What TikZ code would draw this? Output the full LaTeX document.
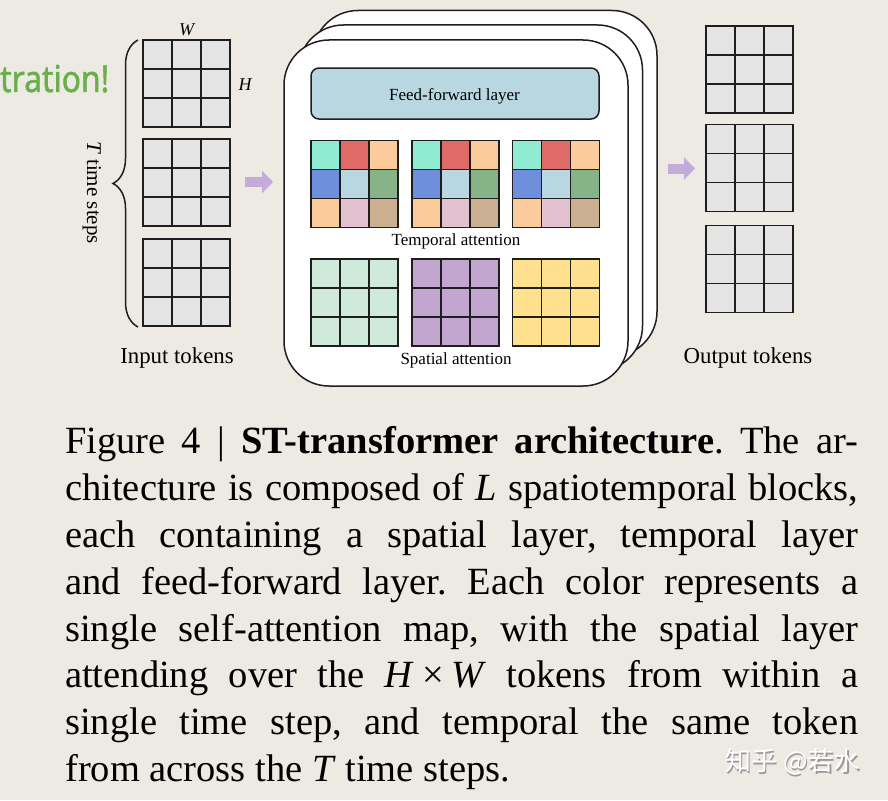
\documentclass[tikz,border=0pt]{standalone}
\usepackage{fontspec}
\setmainfont{Liberation Serif}
\newfontfamily\greenfont[FakeStretch=0.86,FakeBold=1.2]{Noto Sans}
\newfontfamily\cjkfont{Noto Sans CJK SC}
\usetikzlibrary{decorations.pathreplacing,arrows.meta}
\definecolor{bgbeige}{HTML}{EDE9E3}
\definecolor{linec}{HTML}{1E1E1E}
\definecolor{tokgray}{HTML}{E4E4E4}
\definecolor{ffblue}{HTML}{B9D7E1}
\definecolor{caqua}{HTML}{8FEBD2}
\definecolor{cred}{HTML}{DE6B67}
\definecolor{cpeach}{HTML}{FCCB9B}
\definecolor{cblue}{HTML}{6F8EDC}
\definecolor{clblue}{HTML}{B9D7E1}
\definecolor{cgreen}{HTML}{87B389}
\definecolor{cpink}{HTML}{E4C1CE}
\definecolor{ctan}{HTML}{CCAE91}
\definecolor{cmint}{HTML}{CFEADB}
\definecolor{cpurple}{HTML}{C3A6CF}
\definecolor{cyellow}{HTML}{FFE08F}
\definecolor{arrowpurple}{HTML}{C4ABD9}
\definecolor{wmgreen}{HTML}{6AAF4A}
\def\grayL{tokgray,tokgray,tokgray,tokgray,tokgray,tokgray,tokgray,tokgray,tokgray}
\def\tempL{caqua,cred,cpeach,cblue,clblue,cgreen,cpeach,cpink,ctan}
\def\mintL{cmint,cmint,cmint,cmint,cmint,cmint,cmint,cmint,cmint}
\def\purpL{cpurple,cpurple,cpurple,cpurple,cpurple,cpurple,cpurple,cpurple,cpurple}
\def\yellL{cyellow,cyellow,cyellow,cyellow,cyellow,cyellow,cyellow,cyellow,cyellow}
\newcommand{\cellgrid}[4]{%
  \foreach \cc [count=\i from 0] in #4 {
    \pgfmathtruncatemacro{\gcol}{mod(\i,3)}
    \pgfmathtruncatemacro{\grow}{div(\i,3)}
    \fill[\cc] (#2+\gcol*29, #3+\grow*29) rectangle ++(29,29);
  }
  \foreach \k in {1,2} {
    \draw[gridline] (#2+\k*29,#3) -- ++(0,87);
    \draw[gridline] (#2,#3+\k*29) -- ++(87,0);
  }
  \node[gridframe] (#1) at (#2+43.5,#3+43.5) {};
}
\frenchspacing
\begin{document}
\begin{tikzpicture}[x=1pt,y=-1pt,
  gridline/.style={linec, line width=1.6pt},
  gridframe/.style={draw=linec, line width=1.6pt, minimum size=87pt, inner sep=0pt},
  blockbox/.style={draw=linec, fill=white, line width=1.5pt, rounded corners=45pt,
    minimum width=344pt, minimum height=346pt, inner sep=0pt},
  ffbox/.style={draw=linec, fill=ffblue, line width=1.5pt, rounded corners=8pt,
    minimum width=288pt, minimum height=51pt, inner sep=0pt},
  lbl/.style={font=\fontsize{22.8pt}{26pt}\selectfont, inner sep=0pt, anchor=base},
  smlbl/.style={font=\fontsize{17pt}{20pt}\selectfont, inner sep=0pt, anchor=base},
  capline/.style={font=\frenchspacing\fontsize{38.5pt}{47pt}\selectfont, inner sep=0pt, anchor=base west},
  bigarrow/.style={arrowpurple, line width=10pt, -{Triangle[width=22pt,length=11pt]}}
]
\fill[bgbeige] (0,0) rectangle (888,800);
\useasboundingbox (0,0) rectangle (888,800);

% green clipped text
\node[anchor=base west, inner sep=0pt, text=wmgreen,
  font=\greenfont\fontsize{37pt}{40pt}\selectfont] (gtxt) at (0,92) {tration!};

% input tokens
\cellgrid{in1}{143}{40}{\grayL}
\cellgrid{in2}{143}{139}{\grayL}
\cellgrid{in3}{143}{239}{\grayL}
\node[smlbl, font=\itshape\fontsize{18pt}{20pt}\selectfont] (wlab) at (186.5,35.5) {W};
\node[smlbl, font=\itshape\fontsize{18pt}{20pt}\selectfont] (hlab) at (245,90.5) {H};
\draw[linec, line width=1.5pt, decorate, decoration={brace, amplitude=25pt}]
  (138,327) -- (138,40);
\node[lbl, font=\fontsize{21pt}{24pt}\selectfont, rotate=-90] (tlab) at (87,192.5) {\textit{T} time steps};
\node[lbl] (inlab) at (177,363.3) {Input tokens};

% block stack
\node[blockbox] (blk3) at (485,183.5) {};
\node[blockbox] (blk2) at (470.5,198) {};
\node[blockbox] (blk1) at (456,213) {};
\node[ffbox] (ff) at (455,93.5) {};
\node[smlbl] (fflab) at (454.5,100) {Feed-forward layer};
\cellgrid{t1}{311}{140.5}{\tempL}
\cellgrid{t2}{412}{140.5}{\tempL}
\cellgrid{t3}{512.5}{140.5}{\tempL}
\node[smlbl] (tlabel) at (456,245.5) {Temporal attention};
\cellgrid{s1}{311}{259}{\mintL}
\cellgrid{s2}{412}{259}{\purpL}
\cellgrid{s3}{512.5}{259}{\yellL}
\node[smlbl] (slabel) at (456,364) {Spatial attention};

% output tokens
\cellgrid{out1}{706}{26}{\grayL}
\cellgrid{out2}{706}{124.5}{\grayL}
\cellgrid{out3}{706}{225.5}{\grayL}
\node[lbl] (outlab) at (748,363) {Output tokens};

% arrows
\coordinate (a1s) at (245,182);
\coordinate (a1e) at (273,182);
\coordinate (a2s) at (668,168.5);
\coordinate (a2e) at (695,168.5);
\draw[bigarrow] (a1s) -- (a1e);
\draw[bigarrow] (a2s) -- (a2e);

% caption
\node[capline] (c1) at (65,453) {\makebox[793pt][s]{Figure 4 | \textbf{ST-transformer architecture}. The ar-}};
\node[capline] (c2) at (65,500) {\makebox[793pt][s]{chitecture is composed of \textit{L} spatiotemporal blocks,}};
\node[capline] (c3) at (65,547) {\makebox[793pt][s]{each containing a spatial layer, temporal layer}};
\node[capline] (c4) at (65,594) {\makebox[793pt][s]{and feed-forward layer. Each color represents a}};
\node[capline] (c5) at (65,641) {\makebox[793pt][s]{single self-attention map, with the spatial layer}};
\node[capline] (c6) at (65,687.5) {\makebox[793pt][s]{attending over the \mbox{\textit{H}\kern8pt×\kern7pt\textit{W}} tokens from within a}};
\node[capline] (c7) at (65,734) {\makebox[793pt][s]{single time step, and temporal the same token}};
\node[capline] (c8) at (65,781) {from across the \textit{T} time steps.};

% watermark
\node[anchor=west, inner sep=0pt, text=black!40, font=\cjkfont\fontsize{26pt}{28pt}\selectfont] (wm2) at (726.5,763.5) {知乎 @若水};
\node[anchor=west, inner sep=0pt, text=white, font=\cjkfont\fontsize{26pt}{28pt}\selectfont] (wm) at (725,762) {知乎 @若水};
\end{tikzpicture}
\end{document}
